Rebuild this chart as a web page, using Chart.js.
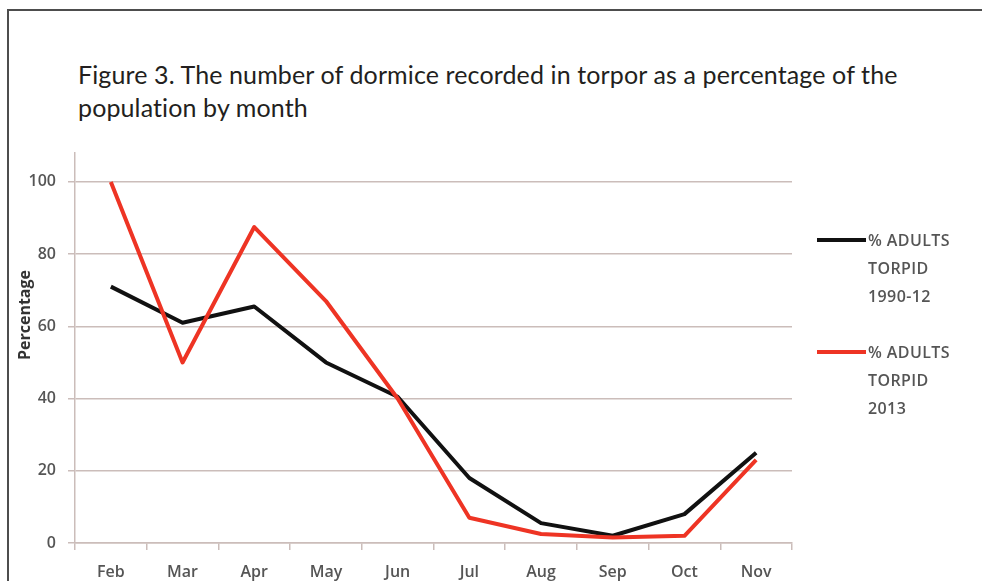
<!DOCTYPE html>
<html lang="en">
<head>
<meta charset="UTF-8">
<meta name="viewport" content="width=device-width, initial-scale=1.0">
<title>Dormice in torpor by month</title>
<script src="https://cdn.jsdelivr.net/npm/chart.js"></script>
<style>
    html, body {
        margin: 0;
        padding: 0;
        background: #fff;
    }
    body {
        width: 982px;
        height: 581px;
        position: relative;
        overflow: hidden;
        font-family: 'Open Sans', sans-serif;
    }
    .frame {
        position: absolute;
        left: 7px;
        top: 9px;
        right: -10px;
        bottom: -10px;
        border-top: 2px solid #4d4d4d;
        border-left: 2px solid #4d4d4d;
    }
    .caption {
        position: absolute;
        left: 78px;
        top: 58px;
        font-family: Lato, sans-serif;
        font-size: 25px;
        letter-spacing: 0.12px;
        line-height: 33px;
        color: #231f20;
        white-space: nowrap;
    }
    #wrap {
        position: absolute;
        left: 0;
        top: 140px;
        width: 982px;
        height: 441px;
    }
    .legend {
        position: absolute;
        left: 817px;
        top: 226px;
    }
    .legend .item {
        position: relative;
        padding-left: 51px;
        width: 90px;
        font: 600 16px 'Open Sans', sans-serif;
        letter-spacing: 0.4px;
        color: #555;
        line-height: 28px;
        margin-bottom: 28px;
    }
    .legend .item span.w {
        white-space: nowrap;
    }
    .legend .swatch {
        position: absolute;
        left: 0;
        top: 12px;
        width: 49px;
        height: 4px;
    }
</style>
</head>
<body>
    <div class="frame"></div>
    <div class="caption">Figure 3. The number of dormice recorded in torpor as a percentage of the<br>population by month</div>
    <div id="wrap"><canvas id="chart"></canvas></div>
    <div class="legend" id="legend"></div>

<script>
    const months = ['Feb', 'Mar', 'Apr', 'May', 'Jun', 'Jul', 'Aug', 'Sep', 'Oct', 'Nov'];
    const torpid1990_12 = [71, 61, 65.5, 50, 40.5, 18, 5.5, 2, 8, 25];
    const torpid2013 = [100, 50, 87.5, 67, 40, 7, 2.5, 1.5, 2, 23];
    const seriesNames = ['% ADULTS TORPID 1990-12', '% ADULTS TORPID 2013'];
    const seriesColors = ['#111111', '#ee3424'];
    const yTicks = [0, 20, 40, 60, 80, 100];
    const yTitle = 'Percentage';

    const gridColor = '#cbbdba';
    const tickFont = { family: 'Open Sans', size: 16, weight: '600' };

    // rotated axis title sits a little above the middle of the axis
    const yTitlePlugin = {
        id: 'yTitle',
        afterDraw(chart) {
            const ctx = chart.ctx;
            ctx.save();
            ctx.translate(25, 175);
            ctx.rotate(-Math.PI / 2);
            ctx.font = '700 16px "Open Sans"';
            ctx.fillStyle = '#333';
            ctx.textAlign = 'center';
            ctx.textBaseline = 'middle';
            ctx.fillText(yTitle, 0, 0);
            ctx.restore();
        }
    };

    const chart = new Chart(document.getElementById('chart'), {
        type: 'line',
        data: {
            labels: months,
            datasets: [{
                label: seriesNames[0],
                data: torpid1990_12,
                borderColor: seriesColors[0],
                borderWidth: 4,
                order: 1
            }, {
                label: seriesNames[1],
                data: torpid2013,
                borderColor: seriesColors[1],
                borderWidth: 4,
                order: 0
            }]
        },
        options: {
            responsive: true,
            maintainAspectRatio: false,
            animation: false,
            elements: {
                point: { radius: 0 },
                line: { tension: 0, borderJoinStyle: 'round' }
            },
            layout: {
                padding: { left: 0, top: 13, right: 190, bottom: 0 }
            },
            plugins: {
                legend: { display: false },
                tooltip: { enabled: false }
            },
            scales: {
                x: {
                    offset: true,
                    afterFit: (s) => { s.height = 38; },
                    grid: {
                        offset: true,
                        drawOnChartArea: false,
                        tickLength: 7,
                        color: gridColor,
                        lineWidth: 1.5
                    },
                    border: { color: gridColor, width: 1.5 },
                    ticks: {
                        color: '#555',
                        font: tickFont,
                        padding: 13,
                        maxRotation: 0
                    }
                },
                y: {
                    min: 0,
                    max: 108,
                    afterFit: (s) => {
                        s.width = 75;
                        s.paddingTop = 0;
                        s.paddingBottom = 0;
                    },
                    afterBuildTicks: (s) => {
                        s.ticks = yTicks.map(v => ({ value: v }));
                    },
                    grid: {
                        tickLength: 7,
                        color: gridColor,
                        lineWidth: 1.5
                    },
                    border: { color: gridColor, width: 1.5 },
                    ticks: {
                        color: '#555',
                        font: tickFont,
                        padding: 12
                    }
                }
            }
        },
        plugins: [yTitlePlugin]
    });

    // legend built from the datasets; "%" stays with "ADULTS"
    let html = '';
    chart.data.datasets.forEach((d) => {
        const words = d.label.replace('% ', '%\u00a0').split(' ');
        const text = words.map(w => `<span class="w">${w}</span>`).join(' ');
        html += `<div class="item"><span class="swatch" style="background:${d.borderColor}"></span>${text}</div>`;
    });
    document.getElementById('legend').innerHTML = html;
</script>
</body>
</html>
